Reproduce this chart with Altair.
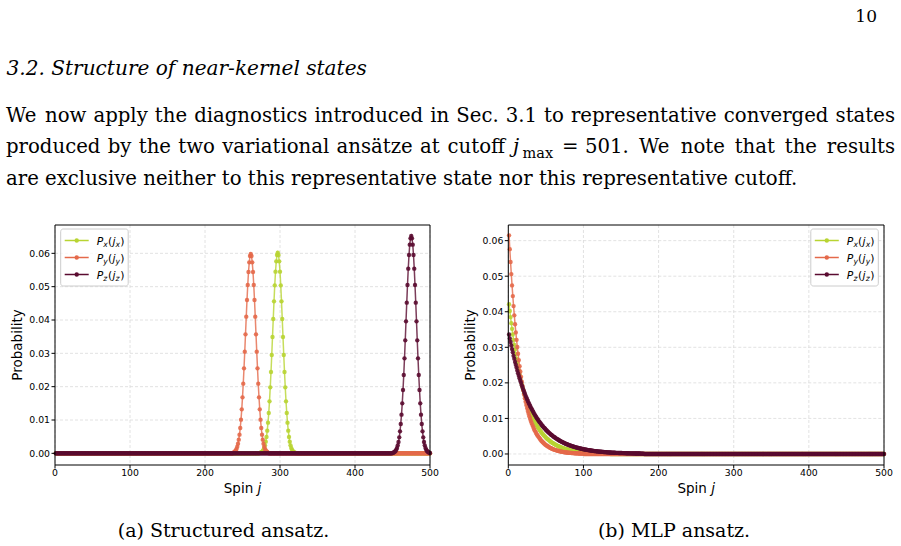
import altair as alt
import pandas as pd

# ---------------------------------------------------------------- data
SPINS = list(range(1, 501))
X_TICKS = [0, 100, 200, 300, 400, 500]
Y_TICKS = [0.00, 0.01, 0.02, 0.03, 0.04, 0.05, 0.06]

# (a) Structured ansatz: each distribution is zero except on one stretch of spins.
A_PX_START = 273
A_PX = [0.0001, 0.0002, 0.0003, 0.0004, 0.0007, 0.0011, 0.0016, 0.0024, 0.0035, 0.0049,
        0.0068, 0.0092, 0.0121, 0.0156, 0.0198, 0.0244, 0.0295, 0.0349, 0.0403, 0.0456,
        0.0504, 0.0545, 0.0576, 0.0595, 0.0602, 0.0595, 0.0576, 0.0545, 0.0504, 0.0456,
        0.0403, 0.0349, 0.0295, 0.0244, 0.0198, 0.0156, 0.0121, 0.0092, 0.0068, 0.0049,
        0.0035, 0.0024, 0.0016, 0.0011, 0.0007, 0.0004, 0.0003, 0.0002, 0.0001]
A_PY_START = 238
A_PY = [0.0002, 0.0004, 0.0006, 0.0009, 0.0013, 0.0020, 0.0029, 0.0041, 0.0056, 0.0076,
        0.0101, 0.0132, 0.0168, 0.0209, 0.0255, 0.0305, 0.0357, 0.0410, 0.0460, 0.0505,
        0.0544, 0.0573, 0.0592, 0.0598, 0.0592, 0.0573, 0.0544, 0.0505, 0.0460, 0.0410,
        0.0357, 0.0305, 0.0255, 0.0209, 0.0168, 0.0132, 0.0101, 0.0076, 0.0056, 0.0041,
        0.0029, 0.0020, 0.0013, 0.0009, 0.0006, 0.0004, 0.0002]
A_PZ_START = 450
A_PZ = [0.0001, 0.0002, 0.0003, 0.0005, 0.0007, 0.0011, 0.0016, 0.0024, 0.0034, 0.0048,
        0.0066, 0.0088, 0.0116, 0.0150, 0.0190, 0.0235, 0.0285, 0.0339, 0.0396, 0.0452,
        0.0505, 0.0554, 0.0595, 0.0626, 0.0645, 0.0652, 0.0645, 0.0626, 0.0595, 0.0554,
        0.0505, 0.0452, 0.0396, 0.0339, 0.0285, 0.0235, 0.0190, 0.0150, 0.0116, 0.0088,
        0.0066, 0.0048, 0.0034, 0.0024, 0.0016, 0.0011, 0.0007, 0.0005, 0.0003, 0.0002,
        0.0001]

# (b) MLP ansatz: decaying distributions from j = 1, zero beyond the listed spins.
B_PX = [0.0421, 0.0402, 0.0385, 0.0368, 0.0352, 0.0336, 0.0321, 0.0307, 0.0294, 0.0281,
        0.0268, 0.0257, 0.0245, 0.0235, 0.0224, 0.0214, 0.0205, 0.0196, 0.0187, 0.0179,
        0.0171, 0.0164, 0.0156, 0.0150, 0.0143, 0.0137, 0.0131, 0.0125, 0.0119, 0.0114,
        0.0109, 0.0104, 0.0100, 0.0095, 0.0091, 0.0087, 0.0083, 0.0080, 0.0076, 0.0073,
        0.0070, 0.0067, 0.0064, 0.0061, 0.0058, 0.0056, 0.0053, 0.0051, 0.0049, 0.0046,
        0.0044, 0.0042, 0.0041, 0.0039, 0.0037, 0.0035, 0.0034, 0.0032, 0.0031, 0.0030,
        0.00283, 0.00271, 0.00259, 0.00247, 0.00236, 0.00226, 0.00216, 0.00207, 0.00197, 0.00189,
        0.00180, 0.00172, 0.00165, 0.00158, 0.00151, 0.00144, 0.00138, 0.00132, 0.00126, 0.00120,
        0.00115, 0.00110, 0.00105, 0.00101, 0.00096, 0.00092, 0.00088, 0.00084, 0.00080, 0.00077,
        0.00073, 0.00070, 0.00067, 0.00064, 0.00061, 0.00059, 0.00056, 0.00054, 0.00051, 0.00049,
        0.00047, 0.00045, 0.00043, 0.00041, 0.00039, 0.00037, 0.00036, 0.00034, 0.00033, 0.00031,
        0.00030, 0.00029, 0.00027, 0.00026, 0.00025, 0.00024, 0.00023, 0.00022, 0.00021, 0.00020,
        0.00019, 0.00018, 0.00017, 0.00016, 0.00016, 0.00015, 0.00014, 0.00014, 0.00013, 0.00012,
        0.00012, 0.00011, 0.00011, 0.00010, 0.00010]
B_PY = [0.0615, 0.0576, 0.0540, 0.0506, 0.0474, 0.0444, 0.0416, 0.0390, 0.0365, 0.0342,
        0.0321, 0.0301, 0.0282, 0.0264, 0.0247, 0.0232, 0.0217, 0.0203, 0.0191, 0.0179,
        0.0167, 0.0157, 0.0147, 0.0138, 0.0129, 0.0121, 0.0113, 0.0106, 0.0099, 0.0093,
        0.0087, 0.0082, 0.0077, 0.0072, 0.0067, 0.0063, 0.0059, 0.0055, 0.0052, 0.0049,
        0.0046, 0.0043, 0.0040, 0.0037, 0.0035, 0.0033, 0.0031, 0.0029, 0.0027, 0.0025,
        0.0024, 0.0022, 0.0021, 0.0020, 0.0018, 0.0017, 0.0016, 0.0015, 0.0014, 0.0013,
        0.00124, 0.00116, 0.00109, 0.00102, 0.00096, 0.00090, 0.00084, 0.00079, 0.00074, 0.00069,
        0.00065, 0.00061, 0.00057, 0.00053, 0.00050, 0.00047, 0.00044, 0.00041, 0.00038, 0.00036,
        0.00034, 0.00032, 0.00030, 0.00028, 0.00026, 0.00024, 0.00023, 0.00021, 0.00020, 0.00019,
        0.00018, 0.00016, 0.00015, 0.00014, 0.00013, 0.00012, 0.00012, 0.00011, 0.00010, 0.00010]
B_PZ = [0.0336, 0.0325, 0.0315, 0.0305, 0.0295, 0.0286, 0.0276, 0.0268, 0.0259, 0.0251,
        0.0243, 0.0235, 0.0227, 0.0220, 0.0213, 0.0206, 0.0200, 0.0193, 0.0187, 0.0181,
        0.0175, 0.0170, 0.0164, 0.0159, 0.0154, 0.0149, 0.0144, 0.0140, 0.0135, 0.0131,
        0.0127, 0.0123, 0.0119, 0.0115, 0.0111, 0.0108, 0.0104, 0.0101, 0.0098, 0.0095,
        0.0091, 0.0089, 0.0086, 0.0083, 0.0080, 0.0078, 0.0075, 0.0073, 0.0071, 0.0068,
        0.0066, 0.0064, 0.0062, 0.0060, 0.0058, 0.0056, 0.0054, 0.0053, 0.0051, 0.0049,
        0.00477, 0.00462, 0.00447, 0.00433, 0.00419, 0.00406, 0.00393, 0.00380, 0.00368, 0.00356,
        0.00345, 0.00334, 0.00323, 0.00313, 0.00303, 0.00293, 0.00284, 0.00275, 0.00266, 0.00257,
        0.00249, 0.00241, 0.00233, 0.00226, 0.00219, 0.00212, 0.00205, 0.00198, 0.00192, 0.00186,
        0.00180, 0.00174, 0.00169, 0.00163, 0.00158, 0.00153, 0.00148, 0.00143, 0.00139, 0.00134,
        0.00130, 0.00126, 0.00122, 0.00118, 0.00114, 0.00110, 0.00107, 0.00104, 0.00100, 0.00097,
        0.00094, 0.00091, 0.00088, 0.00085, 0.00082, 0.00080, 0.00077, 0.00075, 0.00072, 0.00070,
        0.00068, 0.00066, 0.00064, 0.00062, 0.00060, 0.00058, 0.00056, 0.00054, 0.00052, 0.00051,
        0.00049, 0.00047, 0.00046, 0.00044, 0.00043, 0.00042, 0.00040, 0.00039, 0.00038, 0.00037,
        0.00035, 0.00034, 0.00033, 0.00032, 0.00031, 0.00030, 0.00029, 0.00028, 0.00027, 0.00026,
        0.00026, 0.00025, 0.00024, 0.00023, 0.00022, 0.00022, 0.00021, 0.00020, 0.00020, 0.00019,
        0.00018, 0.00018, 0.00017, 0.00017, 0.00016, 0.00016, 0.00015, 0.00015, 0.00014, 0.00014,
        0.00013, 0.00013, 0.00012, 0.00012, 0.00012, 0.00011, 0.00011, 0.00010, 0.00010, 0.00010]

# ---------------------------------------------------------------- style
SERIF = "DejaVu Serif"
SANS = "DejaVu Sans"
GREEN, ORANGE, PURPLE = "#b8d432", "#e4694a", "#5a0b30"
ONE = pd.DataFrame({"k": [0]})

# approximate DejaVu Serif advance widths (em), used to spread justified lines
SERIF_EM = {
    " ": .318, ".": .318, "0": .636, "1": .636, "3": .636, "5": .636,
    "a": .596, "b": .640, "c": .560, "d": .640, "e": .592, "f": .370, "g": .640,
    "h": .644, "i": .320, "j": .315, "k": .609, "l": .320, "m": .948, "n": .644,
    "o": .602, "p": .640, "q": .640, "r": .478, "s": .513, "t": .402, "u": .644,
    "v": .565, "w": .856, "x": .564, "y": .565, "z": .523, "ä": .596,
    "W": 1.029, "S": .685,
}


def on_spins(values, start=1):
    """Spread a listed stretch onto the full spin range (zero elsewhere)."""
    out = [0.0] * len(SPINS)
    for k, v in enumerate(values):
        out[start - 1 + k] = v
    return out


def text_at(text, x, y, size, font=SERIF, align="left", style="normal",
            angle=0, baseline="alphabetic"):
    return alt.Chart(ONE).mark_text(
        text=text, font=font, fontSize=size, fontStyle=style, align=align,
        baseline=baseline, angle=angle, color="black",
    ).encode(x=alt.value(x), y=alt.value(y))


def justified(sentence, x0, x1, y, size):
    """Words spread so the run starts at x0 and ends at x1."""
    words = sentence.split(" ")
    widths = [sum(SERIF_EM.get(c, .6) for c in w) * size for w in words]
    gap = (x1 - x0 - sum(widths)) / (len(words) - 1)
    out, x = [], x0
    for k, (w, wd) in enumerate(zip(words, widths)):
        if k == len(words) - 1:
            out.append(text_at(w, x1, y, size, align="right"))
        else:
            out.append(text_at(w, x, y, size))
        x += wd + gap
    return out


def math_label(x0, y0, sub):
    """P_sub(j_sub) written in pieces: italic letters, small lowered subscripts."""
    s, ss, drop = 10.8, 7.6, 2.8
    return [
        text_at("P", x0, y0, s, SANS, style="italic"),
        text_at(sub, x0 + 6.6, y0 + drop, ss, SANS, style="italic"),
        text_at("(", x0 + 11.2, y0, s, SANS),
        text_at("j", x0 + 15.8, y0, s, SANS, style="italic"),
        text_at(sub, x0 + 18.9, y0 + drop, ss, SANS, style="italic"),
        text_at(")", x0 + 23.5, y0, s, SANS),
    ]


def panel(left, right, top, bottom, y_domain, curves, legend_left):
    xs = alt.Scale(domain=[0, 500], range=[left, right], nice=False, zero=False)
    ys = alt.Scale(domain=y_domain, range=[bottom, top], nice=False, zero=False)
    xt = pd.DataFrame({"t": X_TICKS})
    yt = pd.DataFrame({"t": Y_TICKS})
    grid = dict(color="#dadada", strokeWidth=0.8, strokeDash=[3, 2])

    layers = [
        alt.Chart(xt).mark_rule(**grid).encode(
            x=alt.X("t:Q", scale=xs, axis=None), y=alt.value(top), y2=alt.value(bottom)),
        alt.Chart(yt).mark_rule(**grid).encode(
            y=alt.Y("t:Q", scale=ys, axis=None), x=alt.value(left), x2=alt.value(right)),
    ]
    for values, color in curves:
        df = pd.DataFrame({"j": SPINS, "p": values})
        enc = dict(x=alt.X("j:Q", scale=xs, axis=None),
                   y=alt.Y("p:Q", scale=ys, axis=None))
        layers.append(alt.Chart(df).mark_line(color=color, strokeWidth=1.5, opacity=0.8).encode(**enc))
        layers.append(alt.Chart(df).mark_circle(color=color, size=19, opacity=0.9).encode(**enc))

    # frame, ticks and tick labels
    layers += [
        alt.Chart(ONE).mark_rect(fillOpacity=0, stroke="black", strokeWidth=1).encode(
            x=alt.value(left), x2=alt.value(right), y=alt.value(top), y2=alt.value(bottom)),
        alt.Chart(xt).mark_rule(color="black", strokeWidth=1).encode(
            x=alt.X("t:Q", scale=xs, axis=None), y=alt.value(bottom), y2=alt.value(bottom + 3.5)),
        alt.Chart(yt).mark_rule(color="black", strokeWidth=1).encode(
            y=alt.Y("t:Q", scale=ys, axis=None), x=alt.value(left - 3.5), x2=alt.value(left)),
        alt.Chart(xt).mark_text(font=SANS, fontSize=9.3, align="center", baseline="alphabetic",
                                color="black").encode(
            x=alt.X("t:Q", scale=xs, axis=None), y=alt.value(bottom + 11),
            text=alt.Text("t:Q", format="d")),
        alt.Chart(yt).mark_text(font=SANS, fontSize=9.3, align="right", baseline="alphabetic",
                                dy=3.4, color="black").encode(
            y=alt.Y("t:Q", scale=ys, axis=None), x=alt.value(left - 5),
            text=alt.Text("t:Q", format=".2f")),
    ]

    # axis titles
    cx, cy = (left + right) / 2, (top + bottom) / 2
    layers += [
        text_at("Probability", left - 37.5, cy, 13.5, SANS, align="center",
                angle=270, baseline="middle"),
        text_at("Spin", cx + 10.7, 493, 13.5, SANS, align="right"),
        text_at("j", cx + 15.0, 493, 13.5, SANS, style="italic"),
    ]

    # legend
    layers.append(alt.Chart(ONE).mark_rect(
        fill="white", fillOpacity=0.8, stroke="#cccccc", strokeWidth=1, cornerRadius=2.5
    ).encode(x=alt.value(legend_left), x2=alt.value(legend_left + 67.5),
             y=alt.value(229), y2=alt.value(286)))
    for i, (sub, color) in enumerate([("x", GREEN), ("y", ORANGE), ("z", PURPLE)]):
        yy = 240.5 + 17 * i
        layers.append(alt.Chart(ONE).mark_rule(color=color, strokeWidth=1.5).encode(
            x=alt.value(legend_left + 4), x2=alt.value(legend_left + 28), y=alt.value(yy)))
        layers.append(alt.Chart(ONE).mark_circle(color=color, size=19, opacity=1).encode(
            x=alt.value(legend_left + 16), y=alt.value(yy)))
        layers += math_label(legend_left + 36, yy + 4, sub)
    return alt.layer(*layers)


panel_a = panel(55, 430, 225, 465, [-0.0035, 0.0685],
                [(on_spins(A_PX, A_PX_START), GREEN),
                 (on_spins(A_PY, A_PY_START), ORANGE),
                 (on_spins(A_PZ, A_PZ_START), PURPLE)],
                legend_left=60.7)
panel_b = panel(508.3, 884, 225, 465, [-0.0031, 0.0644],
                [(on_spins(B_PX), GREEN), (on_spins(B_PY), ORANGE), (on_spins(B_PZ), PURPLE)],
                legend_left=810.8)

# ---------------------------------------------------------------- page text
BODY = 19.7
page = [
    text_at("10", 877, 21.7, 17, align="right"),
    text_at("3.2. Structure of near-kernel states", 6.5, 74.5, 20.1, style="italic"),
    *justified("We now apply the diagnostics introduced in Sec. 3.1 to representative "
               "converged states", 6, 895, 121.7, BODY),
    *justified("produced by the two variational ansätze at cutoff", 6, 505, 153.3, BODY),
    text_at("j", 513, 153.3, BODY, style="italic"),
    text_at("max", 522.5, 157.5, 14.5),
    text_at("=", 562, 153.3, BODY),
    text_at("501.", 585, 153.3, BODY),
    *justified("We note that the results", 639, 895, 153.3, BODY),
    text_at("are exclusive neither to this representative state nor this representative cutoff.",
            6, 185, BODY),
    text_at("(a) Structured ansatz.", 223.5, 536.7, 19, align="center"),
    text_at("(b) MLP ansatz.", 674, 536.7, 19, align="center"),
]

chart = (
    alt.layer(panel_a, panel_b, *page)
    .resolve_scale(x="independent", y="independent")
    .properties(width=901, height=546, padding=0, background="white",
                autosize=alt.AutoSizeParams(type="none"))
    .configure_view(stroke=None)
)

chart.save("out.html", embed_options={"renderer": "svg", "actions": False})
